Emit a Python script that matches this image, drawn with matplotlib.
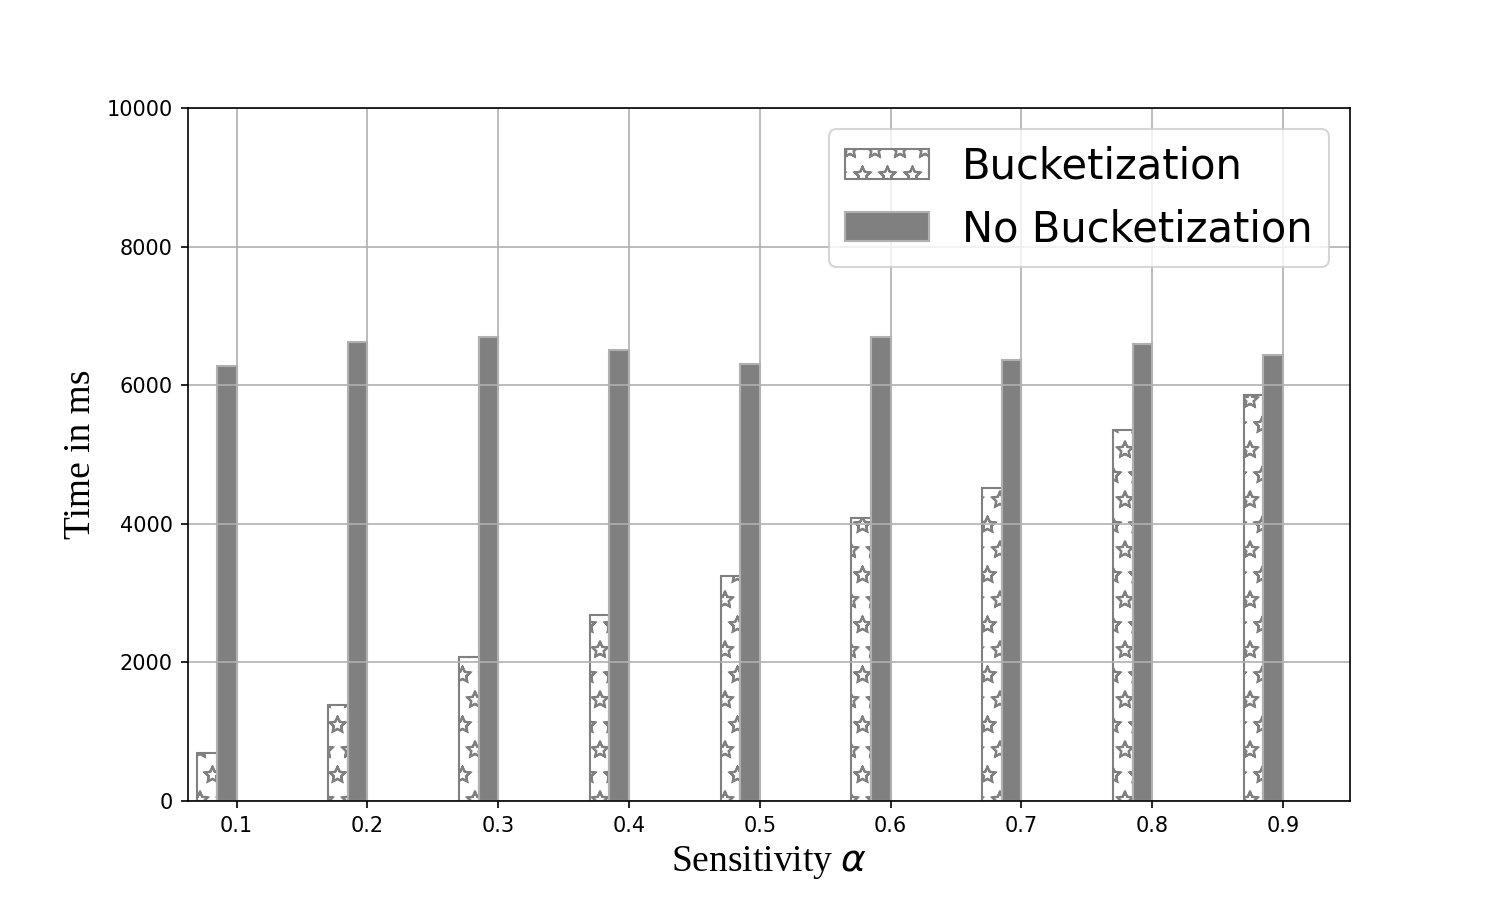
import matplotlib
matplotlib.use("Agg")
import matplotlib.pyplot as plt
import matplotlib.hatch as mhatch
import numpy as np

alphas = [0.1, 0.2, 0.3, 0.4, 0.5, 0.6, 0.7, 0.8, 0.9]
bucketization = [690, 1390, 2080, 2690, 3240, 4080, 4510, 5360, 5860]
no_bucketization = [6270, 6620, 6690, 6510, 6310, 6690, 6370, 6590, 6430]
tick_labels = ["0.1", "0.2", "0.3", "0.4", "0.5", "0.6", "0.7", "0.8", "0.9"]

# outlined (unfilled) stars as in older matplotlib
mhatch.Stars.filled = False

plt.rcParams['hatch.color'] = 'gray'
plt.rcParams['mathtext.fontset'] = 'dejavusans'

fig, ax = plt.subplots(figsize=(10, 6), dpi=150)
x = np.array(alphas)
w = 0.015
ax.bar(x - 1.5 * w, bucketization, width=w, color='white', edgecolor='gray',
       hatch='*', linewidth=1.0, label='Bucketization')
ax.bar(x - 0.5 * w, no_bucketization, width=w, color='#808080', edgecolor='#b0b0b0',
       linewidth=1.0, label='No Bucketization')

ax.set_xticks(x)
ax.set_xticklabels(tick_labels)
ax.set_xlim(0.0625, 0.9512)
ax.set_ylim(0, 10000)
ax.set_yticks([0, 2000, 4000, 6000, 8000, 10000])
ax.grid(True)
ax.set_axisbelow('line')

ax.set_xlabel(r"Sensitivity $\alpha$", fontsize=18, family='Liberation Serif')
ax.set_ylabel("Time in ms", fontsize=18, family='Liberation Serif')
ax.legend(loc='upper right', fontsize=20)

fig.savefig("out.png", dpi=150)
